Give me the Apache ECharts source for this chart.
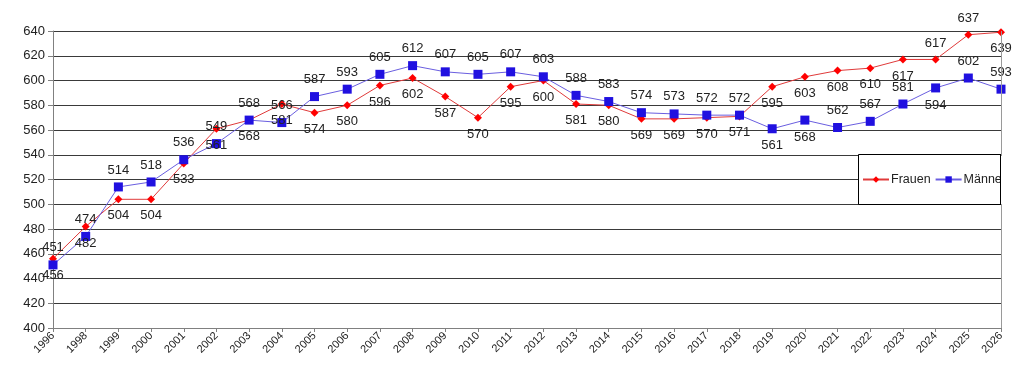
<!DOCTYPE html>
<html>
<head>
<meta charset="utf-8">
<script src="https://cdn.jsdelivr.net/npm/echarts@6/dist/echarts.min.js"></script>
<style>html,body{margin:0;padding:0;background:#fff;}#c{width:1024px;height:375px;}</style>
</head>
<body>
<div id="c"></div>
<script>
const years = ['1996','1998','1999','2000','2001','2002','2003','2004','2005','2006','2007','2008','2009','2010','2011','2012','2013','2014','2015','2016','2017','2018','2019','2020','2021','2022','2023','2024','2025','2026'];
const frauen = [456,482,504,504,533,561,568,581,574,580,596,602,587,570,595,600,581,580,569,569,570,571,595,603,608,610,617,617,637,639];
const maenner = [451,474,514,518,536,549,568,566,587,593,605,612,607,605,607,603,588,583,574,573,572,572,561,568,562,567,581,594,602,593];
const yTicks = [400,420,440,460,480,500,520,540,560,580,600,620,640];

// label placement exceptions (style, not data)
const frauenTopYears = ['2024','2025'];
const maennerBottomYears = ['2019','2020','2024'];

const font = 'Liberation Sans, Arial, sans-serif';
const chart = echarts.init(document.getElementById('c'));
const labelBase = {show: true, fontFamily: font, fontSize: 13, color: '#222', distance: 6};

const frauenData = frauen.map((v, i) => ({
  value: v,
  label: {position: frauenTopYears.includes(years[i]) ? 'top' : 'bottom'}
}));
const maennerData = maenner.map((v, i) => ({
  value: v,
  label: {position: maennerBottomYears.includes(years[i]) ? 'bottom' : 'top'}
}));

chart.setOption({
  animation: false,
  backgroundColor: '#fff',
  grid: {left: 53, right: 23, top: 31, bottom: 47},
  xAxis: {
    type: 'category',
    data: years,
    boundaryGap: false,
    axisLine: {lineStyle: {color: '#808080', width: 1}},
    axisTick: {show: true, alignWithLabel: true, length: 4, lineStyle: {color: '#808080'}},
    axisLabel: {rotate: 45, fontFamily: font, fontSize: 11, color: '#222', margin: 6, interval: 0},
    splitLine: {show: false}
  },
  yAxis: {
    type: 'value',
    min: yTicks[0],
    max: yTicks[yTicks.length - 1],
    interval: 20,
    axisLine: {show: true, lineStyle: {color: '#808080'}},
    axisTick: {show: true, length: 5, lineStyle: {color: '#808080'}},
    axisLabel: {fontFamily: font, fontSize: 13, color: '#222', margin: 8},
    splitLine: {show: true, lineStyle: {color: '#3a3a3a', width: 1}}
  },
  legend: {
    left: 862, top: 173, z: 20, padding: 0,
    itemWidth: 26, itemHeight: 8, itemGap: 4,
    textStyle: {fontFamily: font, fontSize: 12.5, color: '#222', padding: [0, 0, 0, -3]},
    data: ['Frauen', 'Männer']
  },
  graphic: [
    {type: 'rect', shape: {x: 858.5, y: 154.5, width: 142, height: 50}, style: {fill: '#fff', stroke: '#000', lineWidth: 1}, z: 10},
    {type: 'rect', shape: {x: 1001, y: 156, width: 23, height: 48}, style: {fill: '#fff'}, z: 30},
    {type: 'line', shape: {x1: 1000.5, y1: 154, x2: 1000.5, y2: 205}, style: {stroke: '#000', lineWidth: 1}, z: 31},
    {type: 'line', shape: {x1: 1001.5, y1: 31, x2: 1001.5, y2: 328}, style: {stroke: '#9a9a9a', lineWidth: 1}, z: 6}
  ],
  series: [
    {
      name: 'Frauen', type: 'line', data: frauenData,
      symbol: 'diamond', symbolSize: 8,
      lineStyle: {color: '#e03a3a', width: 1},
      itemStyle: {color: '#ff0000'},
      label: labelBase, z: 3
    },
    {
      name: 'Männer', type: 'line', data: maennerData,
      symbol: 'rect', symbolSize: 9,
      lineStyle: {color: '#6a5ee0', width: 1},
      itemStyle: {color: '#2010e0'},
      label: labelBase, z: 3
    }
  ]
});
</script>
</body>
</html>
